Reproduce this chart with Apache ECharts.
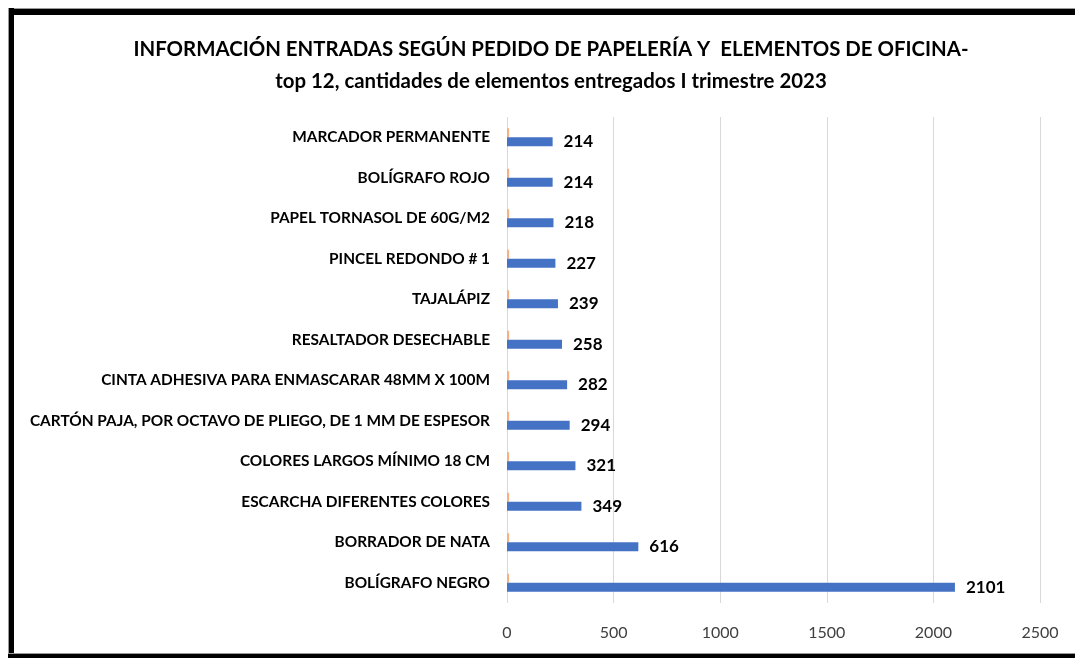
<!DOCTYPE html>
<html>
<head>
<meta charset="utf-8">
<script src="https://cdn.jsdelivr.net/npm/echarts@6/dist/echarts.min.js"></script>
<style>
    html, body { margin: 0; padding: 0; background: #fff; overflow: hidden; }
    .edge { position: absolute; background: #000; }
    #chart { position: absolute; left: 0; top: 0; width: 1075px; height: 658px; }
</style>
</head>
<body>
<div class="edge" style="left:8px;top:8px;width:1067px;height:6px;border-top:1px solid #999;"></div>
<div class="edge" style="left:8px;top:8px;width:5px;height:650px;border-left:1px solid #999;"></div>
<div class="edge" style="left:8px;top:653px;width:1067px;height:5px;border-top:1px solid #999;"></div>
<div id="chart"></div>
<script>
    // categories go bottom -> top
    var categories = [
        'BOLÍGRAFO NEGRO',
        'BORRADOR DE NATA',
        'ESCARCHA DIFERENTES COLORES',
        'COLORES LARGOS MÍNIMO 18 CM',
        'CARTÓN PAJA, POR OCTAVO DE PLIEGO, DE 1 MM DE ESPESOR',
        'CINTA ADHESIVA PARA ENMASCARAR 48MM X 100M',
        'RESALTADOR DESECHABLE',
        'TAJALÁPIZ',
        'PINCEL REDONDO # 1',
        'PAPEL TORNASOL DE 60G/M2',
        'BOLÍGRAFO ROJO',
        'MARCADOR PERMANENTE'
    ];
    var cantidades = [2101, 616, 349, 321, 294, 282, 258, 239, 227, 218, 214, 214];
    var otros = [10, 10, 10, 10, 10, 10, 10, 10, 10, 10, 10, 10];
    var xTicks = [0, 500, 1000, 1500, 2000, 2500];

    var font = 'Lato';
    var chart = echarts.init(document.getElementById('chart'));
    chart.setOption({
        animation: false,
        title: {
            text: 'INFORMACIÓN ENTRADAS SEGÚN PEDIDO DE PAPELERÍA Y  ELEMENTOS DE OFICINA-\ntop 12, cantidades de elementos entregados I trimestre 2023',
            left: 546,
            top: 28,
            textAlign: 'center',
            textStyle: {
                fontFamily: font, fontWeight: 'bold', fontSize: 20.4,
                color: '#000', lineHeight: 32
            }
        },
        grid: { left: 507, right: 35, top: 117, bottom: 55, containLabel: false },
        xAxis: {
            type: 'value',
            min: xTicks[0],
            max: xTicks[xTicks.length - 1],
            interval: 500,
            axisLine: { show: false },
            axisTick: { show: false },
            splitLine: { lineStyle: { color: '#d9d9d9', width: 1 } },
            axisLabel: {
                fontFamily: font, fontSize: 16, color: '#404040', margin: 22,
                formatter: function (v) { return String(v); }
            }
        },
        yAxis: {
            type: 'category',
            data: categories,
            axisLine: { show: false },
            axisTick: { show: false },
            axisLabel: {
                fontFamily: font, fontWeight: 'bold', fontSize: 15.4, color: '#000',
                margin: 17
            }
        },
        series: [
            {
                type: 'bar',
                data: otros,
                barWidth: 9,
                barGap: '0%',
                itemStyle: { color: '#f4b183' }
            },
            {
                type: 'bar',
                data: cantidades,
                barWidth: 9,
                itemStyle: { color: '#4472c4' },
                label: {
                    show: true, position: 'right', distance: 11,
                    fontFamily: font, fontWeight: 'bold', fontSize: 17, color: '#000'
                }
            }
        ]
    });
</script>
</body>
</html>
